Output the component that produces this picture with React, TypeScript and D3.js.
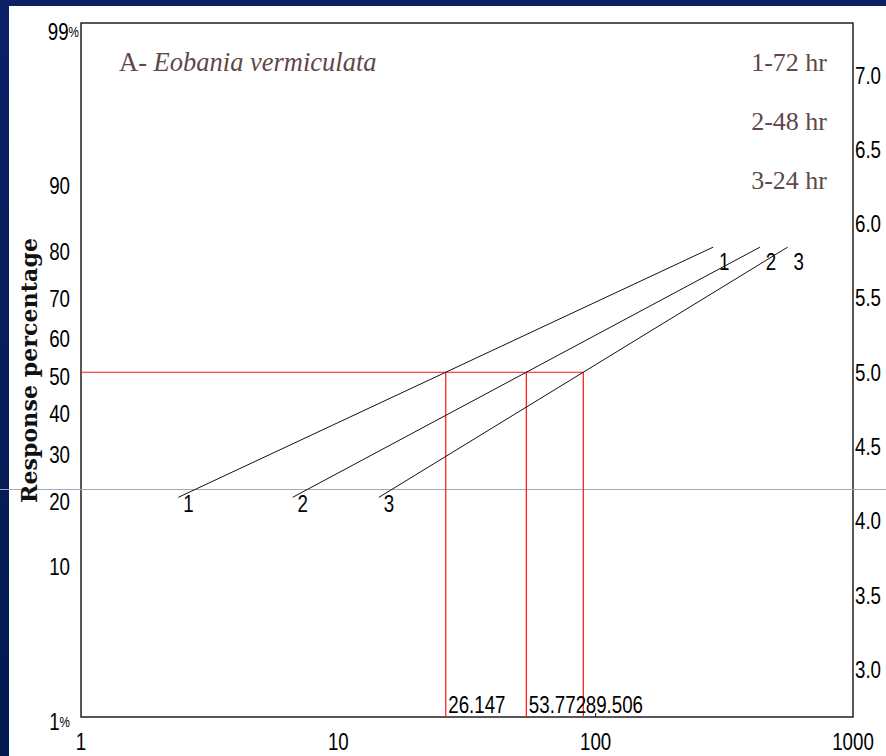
import React from "react";
import * as d3 from "d3";

// Probit regression lines for three exposure times
const lineIds = ["1", "2", "3"];
const lc50Values = [26.147, 53.772, 89.506];
const probitSlopes = [0.81, 0.927, 1.06];
const lineRangePct = [20, 80];

const legendLabels = ["1-72 hr", "2-48 hr", "3-24 hr"];
const xTicks = [1, 10, 100, 1000];
const pctTicks = [99, 90, 80, 70, 60, 50, 40, 30, 20, 10, 1];
const probitTicks = [3.0, 3.5, 4.0, 4.5, 5.0, 5.5, 6.0, 6.5, 7.0];

const W = 886;
const H = 756;
const frame = { left: 81, right: 853, top: 23, bottom: 717 };

// Inverse standard normal CDF (Acklam's rational approximation)
function normInv(p: number): number {
  const a = [-3.969683028665376e1, 2.209460984245205e2, -2.759285104469687e2, 1.38357751867269e2, -3.066479806614716e1, 2.506628277459239];
  const b = [-5.447609879822406e1, 1.615858368580409e2, -1.556989798598866e2, 6.680131188771972e1, -1.328068155288572e1];
  const c = [-7.784894002430293e-3, -3.223964580411365e-1, -2.400758277161838, -2.549732539343734, 4.374664141464968, 2.938163982698783];
  const d = [7.784695709041462e-3, 3.224671290700398e-1, 2.445134137142996, 3.754408661907416];
  const pl = 0.02425;
  if (p < pl) {
    const q = Math.sqrt(-2 * Math.log(p));
    return (((((c[0] * q + c[1]) * q + c[2]) * q + c[3]) * q + c[4]) * q + c[5]) / ((((d[0] * q + d[1]) * q + d[2]) * q + d[3]) * q + 1);
  }
  if (p > 1 - pl) {
    const q = Math.sqrt(-2 * Math.log(1 - p));
    return -(((((c[0] * q + c[1]) * q + c[2]) * q + c[3]) * q + c[4]) * q + c[5]) / ((((d[0] * q + d[1]) * q + d[2]) * q + d[3]) * q + 1);
  }
  const q = p - 0.5;
  const r = q * q;
  return ((((((a[0] * r + a[1]) * r + a[2]) * r + a[3]) * r + a[4]) * r + a[5]) * q) / (((((b[0] * r + b[1]) * r + b[2]) * r + b[3]) * r + b[4]) * r + 1);
}
const probit = (pct: number) => 5 + normInv(pct / 100);

const x = d3.scaleLog().domain([1, 1000]).range([frame.left, frame.right]);
const y = d3.scaleLinear().domain([2.68, 7.35]).range([frame.bottom, frame.top]);

const sansFont = "'Liberation Sans', Arial, sans-serif";
const serifFont = "'Liberation Serif', 'Times New Roman', serif";
const labelSize = 24;
const squeeze = 0.78;
const legendColor = "#5e4848";

// Narrow sans label helper
function Narrow({ x: tx, y: ty, anchor = "start", children }: any) {
  return (
    <text
      transform={`translate(${tx},${ty}) scale(${squeeze},1)`}
      textAnchor={anchor}
      fontFamily={sansFont}
      fontSize={labelSize}
      fill="#000"
    >
      {children}
    </text>
  );
}

export default function App() {
  const lines = lc50Values.map((lc50, i) => {
    const b = probitSlopes[i];
    const pts = lineRangePct.map((pct) => {
      const pr = probit(pct);
      const dose = Math.pow(10, Math.log10(lc50) + (pr - 5) / b);
      return [x(dose), y(pr)] as [number, number];
    });
    return { id: lineIds[i], pts };
  });
  const lineGen = d3.line();
  const y50 = y(5);
  const maxLc = d3.max(lc50Values) as number;

  return (
    <svg width={W} height={H} style={{ position: "fixed", left: 0, top: 0 }}>
      <defs>
        <linearGradient id="bg" x1="0" y1="0" x2="0" y2="1">
          <stop offset="0" stopColor="#0c2066" />
          <stop offset="1" stopColor="#011a4f" />
        </linearGradient>
      </defs>
      <rect x={0} y={0} width={W} height={H} fill="url(#bg)" />
      <rect x={9} y={6} width={W - 9} height={H - 6} fill="#fff" />

      {/* plot frame */}
      <rect
        x={frame.left}
        y={frame.top}
        width={frame.right - frame.left}
        height={frame.bottom - frame.top}
        fill="none"
        stroke="#111"
        strokeWidth={1.4}
      />
      <line x1={x(100)} x2={x(100)} y1={frame.bottom} y2={frame.bottom - 4} stroke="#111" />

      {/* faint horizontal rule across the slide */}
      <line x1={0} x2={W} y1={489.5} y2={489.5} stroke="#a6a6c2" strokeWidth={1} />

      {/* LC50 guides */}
      <line x1={frame.left} x2={x(maxLc)} y1={y50} y2={y50} stroke="#ff1010" strokeWidth={1.2} />
      {lc50Values.map((v) => (
        <line key={v} x1={x(v)} x2={x(v)} y1={y50} y2={frame.bottom} stroke="#ff1010" strokeWidth={1.2} />
      ))}
      {lc50Values.map((v) => (
        <Narrow key={v} x={x(v) + 2.5} y={713}>
          {v.toFixed(3)}
        </Narrow>
      ))}

      {/* regression lines */}
      {lines.map((l) => (
        <g key={l.id}>
          <path d={lineGen(l.pts) as string} fill="none" stroke="#111" strokeWidth={1} />
          <Narrow x={l.pts[0][0] + 10} y={l.pts[0][1] + 15} anchor="middle">
            {l.id}
          </Narrow>
          <Narrow x={l.pts[1][0] + 11} y={l.pts[1][1] + 23} anchor="middle">
            {l.id}
          </Narrow>
        </g>
      ))}

      {/* left percentage axis */}
      {pctTicks.map((p) => {
        const edge = p === 99 ? 79 : 70;
        const hasPct = p === 99 || p === 1;
        return (
          <Narrow key={p} x={edge} y={y(probit(p)) + (p === 99 ? 13 : 12.5)} anchor="end">
            {String(p)}
            {hasPct ? (
              <tspan fontSize={15} dy={-3}>
                %
              </tspan>
            ) : null}
          </Narrow>
        );
      })}

      {/* right probit axis */}
      {probitTicks.map((t) => (
        <Narrow key={t} x={855} y={y(t) + 8.5}>
          {t.toFixed(1)}
        </Narrow>
      ))}

      {/* bottom dose axis */}
      {xTicks.map((t) => (
        <Narrow key={t} x={x(t)} y={750} anchor="middle">
          {String(t)}
        </Narrow>
      ))}

      {/* y axis title */}
      <text
        transform={`translate(37,${370.5}) rotate(-90)`}
        textAnchor="middle"
        fontFamily="'DejaVu Serif', serif"
        fontWeight="bold"
        fontSize={22}
        textLength={265}
        lengthAdjust="spacing"
        fill="#111"
      >
        Response percentage
      </text>

      {/* title */}
      <text x={119} y={71} fontFamily={serifFont} fontSize={26.5} fill={legendColor}>
        A-{" "}
        <tspan fontStyle="italic">Eobania vermiculata</tspan>
      </text>

      {/* legend */}
      {legendLabels.map((lab, i) => (
        <text
          key={lab}
          x={827}
          y={71 + i * 59}
          textAnchor="end"
          fontFamily={serifFont}
          fontSize={26}
          fill={legendColor}
        >
          {lab}
        </text>
      ))}
    </svg>
  );
}
